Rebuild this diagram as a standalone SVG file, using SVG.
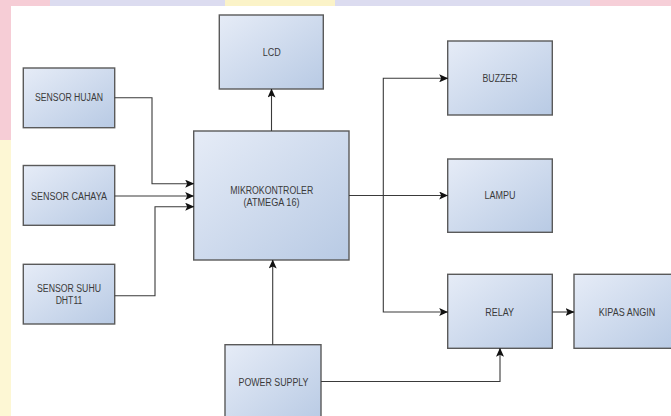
<svg xmlns="http://www.w3.org/2000/svg" width="671" height="416" viewBox="0 0 671 416">
<defs>
<linearGradient id="bx" x1="0" y1="0" x2="1" y2="1">
<stop offset="0" stop-color="#e6ecf7"/>
<stop offset="1" stop-color="#b8cae4"/>
</linearGradient>
<marker id="ar" markerUnits="userSpaceOnUse" markerWidth="9" markerHeight="8" refX="8.5" refY="4" orient="auto">
<path d="M0,0 L9,4 L0,8 L2,4 z" fill="#111"/>
</marker>
<style>
.box{fill:url(#bx);stroke:#5a5a5a;stroke-width:1.4}
.t{font-family:"Liberation Sans",Arial,sans-serif;font-size:10px;fill:#3a3a3a;text-anchor:middle}
.c{fill:none;stroke:#3a3a3a;stroke-width:1.1}
</style>
</defs>
<rect x="0" y="0" width="671" height="416" fill="#fff"/>
<g id="bg">
<rect x="0" y="0" width="671" height="6" fill="#dcdcf0"/>
<rect x="225" y="0" width="110" height="6" fill="#fbf3c8"/>
<rect x="590" y="0" width="81" height="6" fill="#f6cfd8"/>
<rect x="0" y="0" width="11" height="416" fill="#fdf7d4"/>
<rect x="0" y="0" width="11" height="140" fill="#f6cdd6"/>
<rect x="0" y="0" width="50" height="6" fill="#f6cdd6"/>
</g>
<g id="sensor-hujan"><rect class="box" x="23.3" y="68" width="91.4" height="59.7"/><text class="t" x="69" y="101.3" textLength="68" lengthAdjust="spacingAndGlyphs">SENSOR HUJAN</text></g>
<g id="sensor-cahaya"><rect class="box" x="23.3" y="165.5" width="91.4" height="59.8"/><text class="t" x="69" y="199.5" textLength="76" lengthAdjust="spacingAndGlyphs">SENSOR CAHAYA</text></g>
<g id="sensor-suhu"><rect class="box" x="23.3" y="264.3" width="91.4" height="59.7"/><text class="t" x="69" y="291.8" textLength="64" lengthAdjust="spacingAndGlyphs">SENSOR SUHU</text><text class="t" x="69" y="304.2" textLength="26.7" lengthAdjust="spacingAndGlyphs">DHT11</text></g>
<g id="lcd"><rect class="box" x="219.3" y="15" width="104" height="74"/><text class="t" x="271.7" y="56.2" textLength="18" lengthAdjust="spacingAndGlyphs">LCD</text></g>
<g id="mikrokontroler"><rect class="box" x="193.7" y="131" width="155.3" height="129"/><text class="t" x="271.7" y="194.2" textLength="83" lengthAdjust="spacingAndGlyphs">MIKROKONTROLER</text><text class="t" x="271.5" y="206.2" textLength="56" lengthAdjust="spacingAndGlyphs">(ATMEGA 16)</text></g>
<g id="power-supply"><rect class="box" x="225" y="344.7" width="96" height="80"/><text class="t" x="273.5" y="385.5" textLength="70" lengthAdjust="spacingAndGlyphs">POWER SUPPLY</text></g>
<g id="buzzer"><rect class="box" x="447.7" y="41" width="104.6" height="74"/><text class="t" x="500" y="81.5" textLength="35" lengthAdjust="spacingAndGlyphs">BUZZER</text></g>
<g id="lampu"><rect class="box" x="447.7" y="159" width="104.6" height="73.3"/><text class="t" x="500" y="199.2" textLength="31" lengthAdjust="spacingAndGlyphs">LAMPU</text></g>
<g id="relay"><rect class="box" x="447.7" y="274.3" width="104.6" height="74"/><text class="t" x="499.7" y="315.5" textLength="28.7" lengthAdjust="spacingAndGlyphs">RELAY</text></g>
<g id="kipas-angin"><rect class="box" x="574" y="274.3" width="105" height="74"/><text class="t" x="627" y="315.5" textLength="56.3" lengthAdjust="spacingAndGlyphs">KIPAS ANGIN</text></g>
<g id="connectors">
<path class="c" d="M114.7,97.7 H152 V183.7 H193.7" marker-end="url(#ar)"/>
<path class="c" d="M114.7,196 H193.7" marker-end="url(#ar)"/>
<path class="c" d="M114.7,295.7 H155 V206.7 H193.7" marker-end="url(#ar)"/>
<path class="c" d="M271.5,131 V89" marker-end="url(#ar)"/>
<path class="c" d="M272.7,344.7 V260" marker-end="url(#ar)"/>
<path class="c" d="M349,195.5 H447.7" marker-end="url(#ar)"/>
<path class="c" d="M383.3,195.5 V78.3 H447.7" marker-end="url(#ar)"/>
<path class="c" d="M383.3,195.5 V312 H447.7" marker-end="url(#ar)"/>
<path class="c" d="M552.3,312 H574" marker-end="url(#ar)"/>
<path class="c" d="M321,381.5 H500 V348.3" marker-end="url(#ar)"/>
</g>
</svg>
